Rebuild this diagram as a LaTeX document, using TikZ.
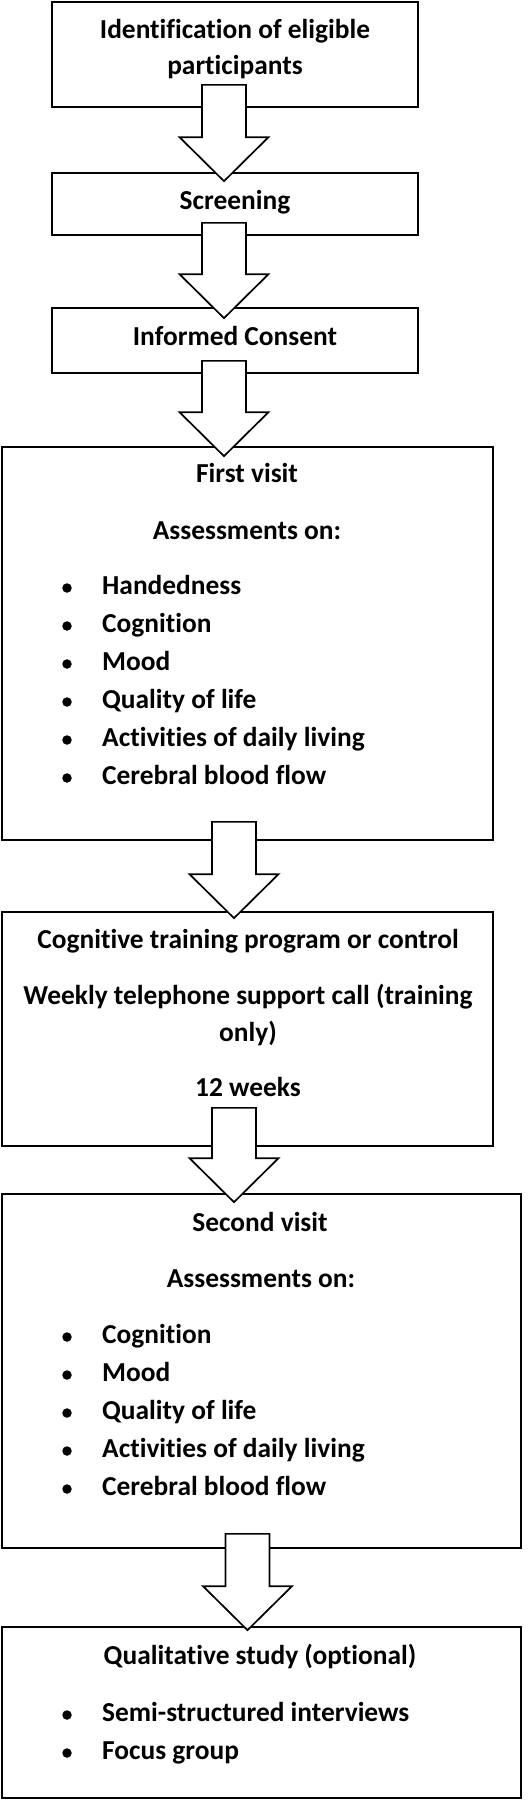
\documentclass[tikz,border=0pt]{standalone}
\usepackage{fontspec}
\setmainfont{Carlito}[Ligatures={NoCommon,NoContextual}]
\usetikzlibrary{calc}
\tikzset{
  box/.style={draw=black, line width=1.7pt, fill=white, inner sep=0pt, rectangle},
  txt/.style={inner sep=0pt, anchor=base, font=\fontsize{27.4}{32}\selectfont\bfseries},
  itemtxt/.style={txt, anchor=base west},
  bul/.style={circle, fill=black, inner sep=0pt, minimum size=9.5pt},
  blockarrow/.style={draw=black, line width=1.7pt, fill=white, line join=miter},
}
\newcommand\blockarr[5]{%
  \draw[blockarrow] let \p1=(#1.south), \p2=(#2.north) in
    ({#3pt-22pt},{\y1+#4pt}) -- ({#3pt+22pt},{\y1+#4pt}) --
    ({#3pt+22pt},{\y2-#5pt+44pt}) -- ({#3pt+44.5pt},{\y2-#5pt+44pt}) --
    ({#3pt},{\y2-#5pt}) -- ({#3pt-44.5pt},{\y2-#5pt+44pt}) --
    ({#3pt-22pt},{\y2-#5pt+44pt}) -- cycle;}
\begin{document}
\begin{tikzpicture}[x=1pt,y=-1pt]
\useasboundingbox (0,0) rectangle (530,1800);
\fill[white] (0,0) rectangle (530,1800);
% boxes
\node[box, minimum width=366pt, minimum height=105pt] (b1) at (235,54.5) {};
\node[box, minimum width=366pt, minimum height=62pt] (b2) at (235,204) {};
\node[box, minimum width=366pt, minimum height=65pt] (b3) at (235,340.5) {};
\node[box, minimum width=491pt, minimum height=393pt] (b4) at (247.5,643.5) {};
\node[box, minimum width=491pt, minimum height=234pt] (b5) at (247.5,1029) {};
\node[box, minimum width=519pt, minimum height=354pt] (b6) at (261.5,1371) {};
\node[box, minimum width=519pt, minimum height=171pt] (b7) at (261.5,1712.5) {};
% block arrows
\blockarr{b1}{b2}{224}{23}{9}
\blockarr{b2}{b3}{224}{13}{11}
\blockarr{b3}{b4}{224}{13}{10}
\blockarr{b4}{b5}{234}{19}{7}
\blockarr{b5}{b6}{234}{39}{9}
\blockarr{b6}{b7}{247.5}{15}{4}
% texts
\node[txt] (t1a) at (235,38) {Identification of eligible};
\node[txt] (t1b) at (235,74) {participants};
\node[txt] (t2) at (235,209) {Screening};
\node[txt] (t3) at (235,345) {Informed Consent};
\node[txt] (t4a) at (247,482) {First visit};
\node[txt] (t4b) at (247,539) {Assessments on:};
\foreach \lab [count=\i from 0] in {Handedness,Cognition,Mood,Quality of life,Activities of daily living,Cerebral blood flow}{
  \node[bul] (b4bul\i) at (67,588+38*\i) {};
  \node[itemtxt] (b4it\i) at (102,594+38*\i) {\lab};
}
\node[txt] (t5a) at (248,948) {Cognitive training program or control};
\node[txt] (t5b) at (248,1004) {Weekly telephone support call (training};
\node[txt] (t5c) at (248,1041) {only)};
\node[txt] (t5d) at (248,1096) {12 weeks};
\node[txt] (t6a) at (260,1231) {Second visit};
\node[txt] (t6b) at (261,1287) {Assessments on:};
\foreach \lab [count=\i from 0] in {Cognition,Mood,Quality of life,Activities of daily living,Cerebral blood flow}{
  \node[bul] (b6bul\i) at (67,1337+38*\i) {};
  \node[itemtxt] (b6it\i) at (102,1343+38*\i) {\lab};
}
\node[txt] (t7a) at (260,1664) {Qualitative study (optional)};
\node[bul] (b7bul0) at (67,1715) {};
\node[itemtxt] (b7it0) at (102,1721) {Semi-structured interviews};
\node[bul] (b7bul1) at (67,1753) {};
\node[itemtxt] (b7it1) at (102,1759) {Focus group};
\end{tikzpicture}
\end{document}
